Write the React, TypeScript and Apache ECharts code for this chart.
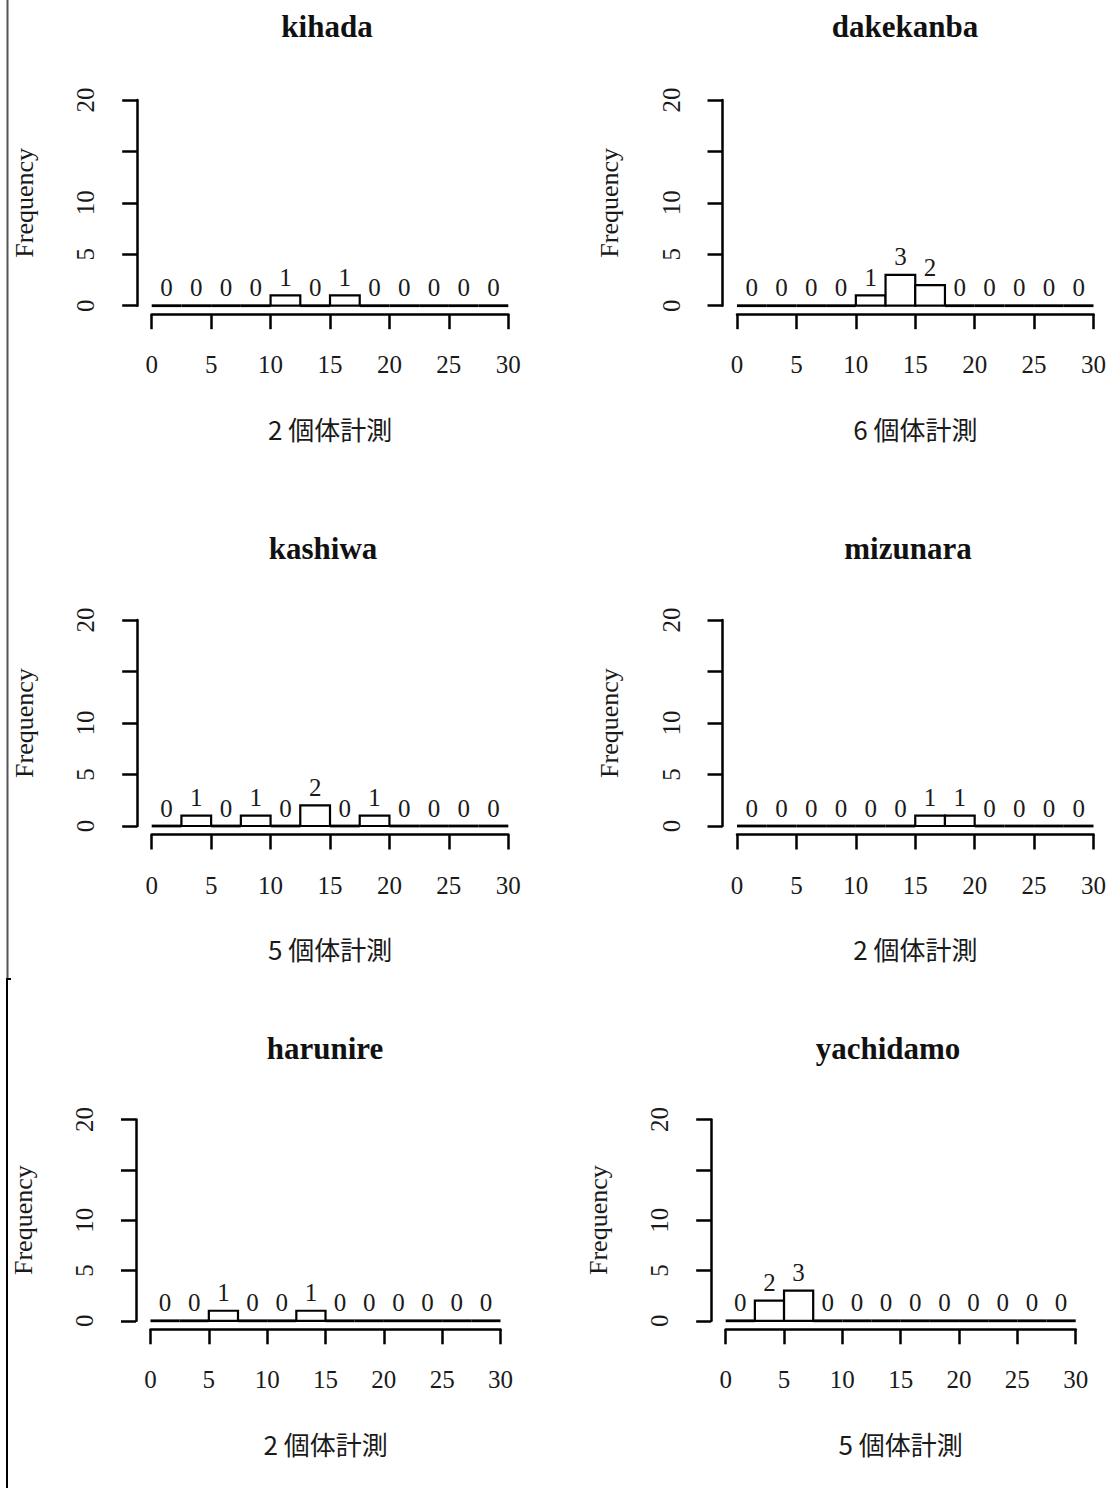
import React, { useEffect, useRef } from "react";
import * as echarts from "echarts";

// Histogram bin breaks (width 2.5) shared by every panel
const binBreaks = [0, 2.5, 5, 7.5, 10, 12.5, 15, 17.5, 20, 22.5, 25, 27.5, 30];

const speciesNames = ["kihada", "dakekanba", "kashiwa", "mizunara", "harunire", "yachidamo"];
const sampleSizes = [2, 6, 5, 2, 2, 5];

const kihadaCounts = [0, 0, 0, 0, 1, 0, 1, 0, 0, 0, 0, 0];
const dakekanbaCounts = [0, 0, 0, 0, 1, 3, 2, 0, 0, 0, 0, 0];
const kashiwaCounts = [0, 1, 0, 1, 0, 2, 0, 1, 0, 0, 0, 0];
const mizunaraCounts = [0, 0, 0, 0, 0, 0, 1, 1, 0, 0, 0, 0];
const harunireCounts = [0, 0, 1, 0, 0, 1, 0, 0, 0, 0, 0, 0];
const yachidamoCounts = [0, 2, 3, 0, 0, 0, 0, 0, 0, 0, 0, 0];

const countsBySpecies = [
  kihadaCounts,
  dakekanbaCounts,
  kashiwaCounts,
  mizunaraCounts,
  harunireCounts,
  yachidamoCounts,
];

// y tick labels: the 15 tick is drawn without a label
const yTickValues = [0, 5, 10, 15, 20];
const yTickLabels = ["0", "5", "10", "", "20"];
const xTickLabels = ["0", "5", "10", "15", "20", "25", "30"];

// Panel layout (plot region in px, title anchor)
const panels = [
  { left: 151.7, top: 100, width: 356.6, height: 205.7, titleX: 327, titleTop: 11 },
  { left: 737, top: 100, width: 356.5, height: 205.7, titleX: 905, titleTop: 11 },
  { left: 151.7, top: 620, width: 356.6, height: 206, titleX: 323, titleTop: 533 },
  { left: 737, top: 620, width: 356.5, height: 206, titleX: 908, titleTop: 533 },
  { left: 150.5, top: 1119.5, width: 350, height: 201.3, titleX: 325, titleTop: 1033 },
  { left: 725.7, top: 1119.5, width: 350, height: 201.3, titleX: 888, titleTop: 1033 },
];

const SERIF = "'Liberation Serif', 'Times New Roman', serif";
const CJK = "'Noto Sans CJK JP', 'Noto Sans', sans-serif";
const INK = "#1a1a1a";
const LINE = { color: "#000", width: 2.5 };

export default function App() {
  const ref = useRef<HTMLDivElement>(null);

  useEffect(() => {
    if (!ref.current) return;
    const chart = echarts.init(ref.current, null, { renderer: "svg" });

    const grid = panels.map((p) => ({
      left: p.left,
      top: p.top,
      width: p.width,
      height: p.height,
      containLabel: false,
    }));

    const xAxis = panels.map((_, i) => ({
      gridIndex: i,
      type: "value",
      min: 0,
      max: 30,
      interval: 5,
      offset: 8.5,
      axisLine: { show: true, onZero: false, lineStyle: LINE },
      axisTick: { show: true, length: 15, lineStyle: LINE },
      splitLine: { show: false },
      axisLabel: {
        margin: 38,
        fontFamily: SERIF,
        fontSize: 25,
        color: INK,
        showMinLabel: true,
        showMaxLabel: true,
        formatter: (v: number) => xTickLabels[Math.round(v / 5)] ?? "",
      },
      name: `${sampleSizes[i]} 個体計測`,
      nameLocation: "middle",
      nameGap: 101,
      nameTextStyle: { fontFamily: CJK, fontSize: 26, color: INK },
    }));

    const yAxis = panels.map((_, i) => ({
      gridIndex: i,
      type: "value",
      min: 0,
      max: 20,
      interval: 5,
      offset: 14.5,
      axisLine: { show: true, onZero: false, lineStyle: LINE },
      axisTick: { show: true, length: 15, lineStyle: LINE },
      splitLine: { show: false },
      axisLabel: {
        rotate: 90,
        margin: 39,
        fontFamily: SERIF,
        fontSize: 25,
        color: INK,
        showMinLabel: true,
        showMaxLabel: true,
        formatter: (v: number) => {
          const k = yTickValues.indexOf(v);
          return k >= 0 ? yTickLabels[k] : "";
        },
      },
      name: "Frequency",
      nameLocation: "middle",
      nameGap: 100,
      nameTextStyle: { fontFamily: SERIF, fontSize: 26, color: INK },
    }));

    const series = countsBySpecies.map((counts, i) => ({
      type: "custom",
      xAxisIndex: i,
      yAxisIndex: i,
      silent: true,
      clip: false,
      data: counts.map((c, k) => [binBreaks[k], binBreaks[k + 1], c]),
      encode: { x: [0, 1], y: 2 },
      renderItem: (_params: any, api: any) => {
        const x0 = api.value(0);
        const x1 = api.value(1);
        const c = api.value(2);
        const pTop = api.coord([x0, c]);
        const pBase = api.coord([x1, 0]);
        const label = {
          type: "text",
          style: {
            text: String(c),
            x: (pTop[0] + pBase[0]) / 2,
            y: pTop[1] - 5.5,
            align: "center",
            verticalAlign: "bottom",
            fontFamily: SERIF,
            fontSize: 25,
            fill: INK,
          },
        };
        const mark =
          c === 0
            ? {
                type: "line",
                shape: { x1: pTop[0], y1: pBase[1], x2: pBase[0], y2: pBase[1] },
                style: { stroke: "#000", lineWidth: 2.8 },
              }
            : {
                type: "rect",
                shape: {
                  x: pTop[0],
                  y: pTop[1],
                  width: pBase[0] - pTop[0],
                  height: pBase[1] - pTop[1],
                },
                style: { fill: "#fff", stroke: "#000", lineWidth: 2.2 },
              };
        return { type: "group", children: [mark, label] };
      },
    }));

    const title = panels.map((p, i) => ({
      text: speciesNames[i],
      left: p.titleX,
      top: p.titleTop,
      textAlign: "center",
      padding: 0,
      textStyle: { fontFamily: SERIF, fontWeight: "bold", fontSize: 31, color: "#111" },
    }));

    chart.setOption({
      animation: false,
      backgroundColor: "#fff",
      title,
      grid,
      xAxis,
      yAxis,
      series,
      graphic: [
        { type: "line", shape: { x1: 7.5, y1: 0, x2: 7.5, y2: 979 }, style: { stroke: "#555", lineWidth: 2 } },
        { type: "line", shape: { x1: 7, y1: 979, x2: 7, y2: 1488 }, style: { stroke: "#000", lineWidth: 2 } },
        { type: "line", shape: { x1: 6, y1: 979, x2: 11, y2: 979 }, style: { stroke: "#000", lineWidth: 2 } },
      ],
    });

    return () => chart.dispose();
  }, []);

  return (
    <div
      ref={ref}
      style={{ position: "absolute", left: 0, top: 0, width: 1115, height: 1488 }}
    />
  );
}
